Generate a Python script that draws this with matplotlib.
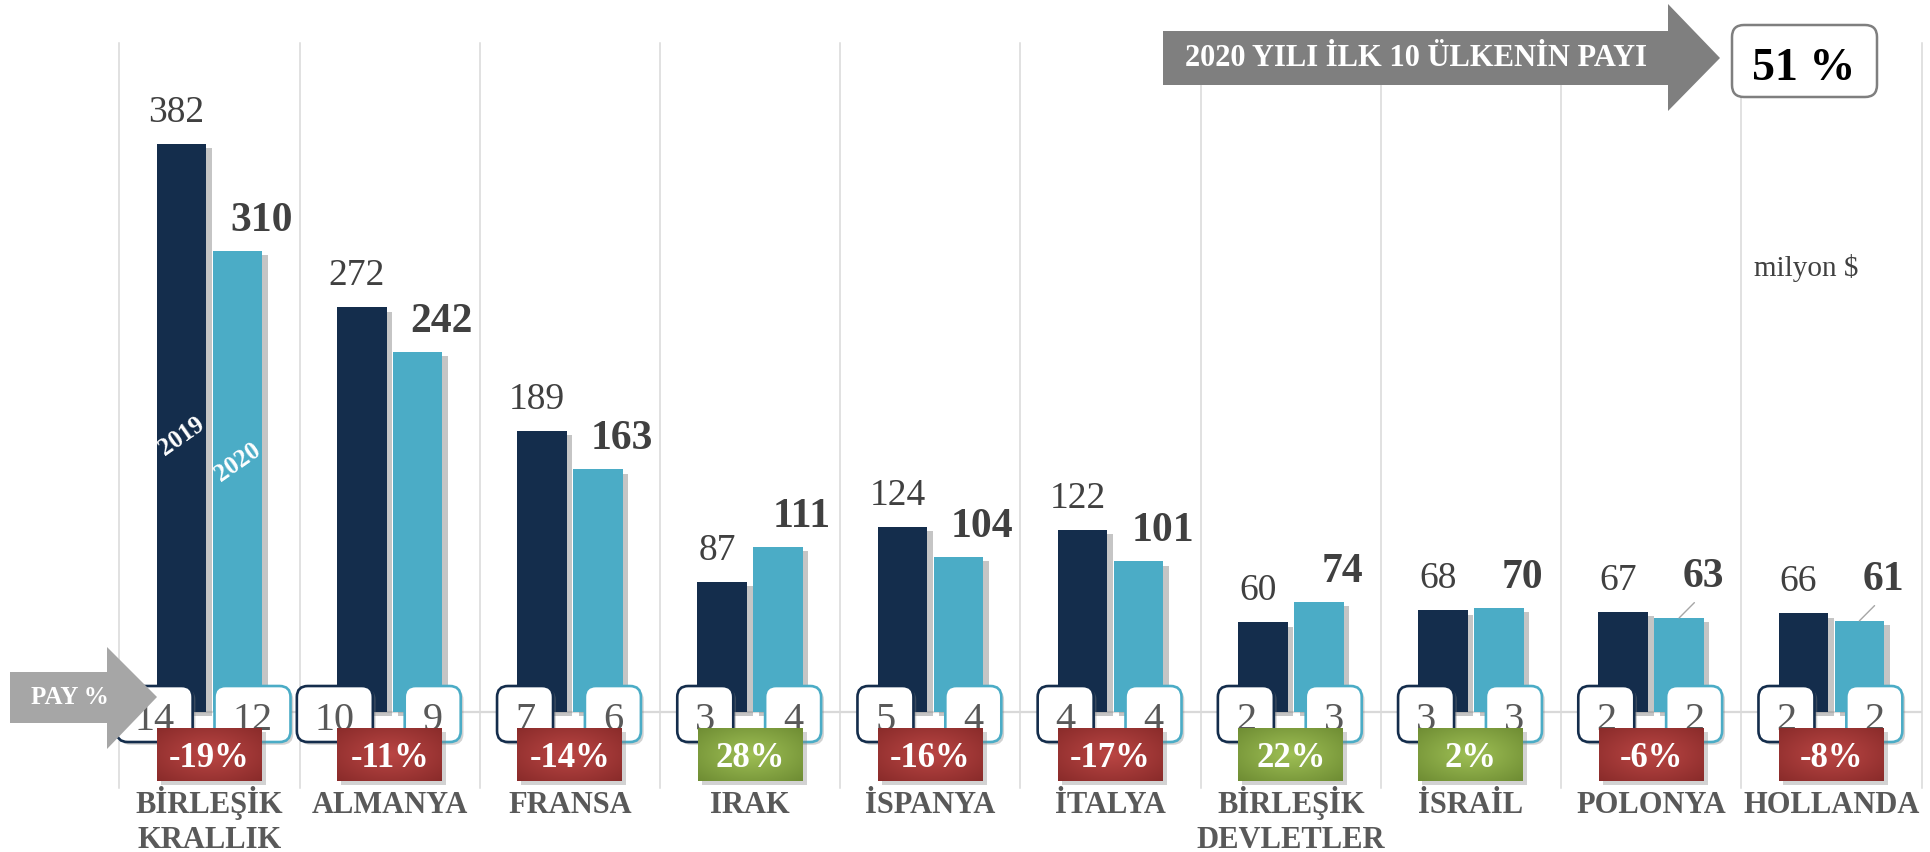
import numpy as np
import matplotlib
matplotlib.use("Agg")
import matplotlib.pyplot as plt
import matplotlib.colors as mcolors
import matplotlib.patheffects as pe
from matplotlib.patches import FancyBboxPatch, Polygon, Rectangle
from matplotlib.transforms import IdentityTransform, Affine2D

plt.rcParams['font.family'] = ['Liberation Serif', 'DejaVu Serif']

# ---- veriler ----
countries = ["BİRLEŞİK\nKRALLIK", "ALMANYA", "FRANSA", "IRAK", "İSPANYA",
             "İTALYA", "BİRLEŞİK\nDEVLETLER", "İSRAİL", "POLONYA", "HOLLANDA"]
val_2019 = [382, 272, 189, 87, 124, 122, 60, 68, 67, 66]
val_2020 = [310, 242, 163, 111, 104, 101, 74, 70, 63, 61]
pay_2019 = [14, 10, 7, 3, 5, 4, 2, 3, 2, 2]
pay_2020 = [12, 9, 6, 4, 4, 4, 3, 3, 2, 2]
degisim = [-19, -11, -14, 28, -16, -17, 22, 2, -6, -8]
toplam_pay = 51
leader = [8, 9]   # 2020 etiketi cizgili olanlar

NAVY = '#142d4c'
AQUA = '#4bacc6'
GRID = '#d9d9d9'
TXT = '#404040'

W, H = 1930, 852
fig = plt.figure(figsize=(W / 100, H / 100), dpi=100)
ax = fig.add_axes([0.0619, 0.0751, 0.9337, 0.8744])
n = len(countries)
x = np.arange(n)
ax.set_xlim(-0.5, n - 0.5)
ax.set_ylim(-51.5, 450)
for s in ax.spines.values():
    s.set_visible(False)
ax.set_xticks([])
ax.set_yticks([])

for b in np.arange(n + 1) - 0.5:
    ax.axvline(b, color=GRID, lw=1.1, zorder=0.5, clip_on=False)
ax.axhline(0, color=GRID, lw=1.6, zorder=0.5)

bw = 0.275
off = 0.155
shadow = [pe.SimplePatchShadow(offset=(4, -3), shadow_rgbFace='#808080', alpha=0.45), pe.Normal()]
b19 = ax.bar(x - off, val_2019, bw, color=NAVY, zorder=2)
b20 = ax.bar(x + off, val_2020, bw, color=AQUA, zorder=2)
for r in list(b19) + list(b20):
    r.set_path_effects(shadow)

# bar ustu degerler
for i in range(n):
    ax.annotate(str(val_2019[i]), (x[i] - off, val_2019[i]), xytext=(-5, 22),
                textcoords='offset pixels', ha='center', va='baseline',
                fontsize=27, color=TXT, zorder=3)
    if i in leader:
        ax.annotate(str(val_2020[i]), (x[i] + off, val_2020[i]), xytext=(24, 31),
                    textcoords='offset pixels', ha='center', va='baseline',
                    fontsize=30, fontweight='bold', color=TXT, zorder=3,
                    arrowprops=dict(arrowstyle='-', color='#a6a6a6', lw=1,
                                    shrinkA=4, shrinkB=0, relpos=(0.45, 0)))
    else:
        ax.annotate(str(val_2020[i]), (x[i] + off, val_2020[i]), xytext=(24, 20),
                    textcoords='offset pixels', ha='center', va='baseline',
                    fontsize=30, fontweight='bold', color=TXT, zorder=3)

ax.text(x[0] - off, 185, '2019', rotation=35, color='white', fontsize=18,
        fontweight='bold', ha='center', va='center', zorder=3)
ax.text(x[0] + off, 168, '2020', rotation=35, color='white', fontsize=18,
        fontweight='bold', ha='center', va='center', zorder=3)

# pay kutulari
ident = IdentityTransform()
box_fx = [pe.SimplePatchShadow(offset=(2, -2), shadow_rgbFace='#808080', alpha=0.35), pe.Normal()]
y0 = ax.transData.transform((0, 0))[1]
for i in range(n):
    for v, xb, ec, kind in [(pay_2019[i], x[i] - off, NAVY, 0), (pay_2020[i], x[i] + off, AQUA, 1)]:
        s = str(v)
        wbox = 36 + 20 * len(s)
        xc = ax.transData.transform((xb, 0))[0]
        cx = xc + 11 - wbox / 2 if kind == 0 else xc + 15
        p = FancyBboxPatch((cx - wbox / 2, y0 - 30.5), wbox, 56,
                           boxstyle='round,pad=0,rounding_size=11',
                           fc='white', ec=ec, lw=1.9, transform=ident,
                           zorder=4, clip_on=False)
        p.set_path_effects(box_fx)
        ax.add_patch(p)
        ax.text(cx, y0 - 18.5, s, transform=ident, ha='center', va='baseline',
                fontsize=29, color='#595959', zorder=5, clip_on=False)

# degisim rozetleri
def grad(c_in, c_out):
    yy, xx = np.mgrid[-1:1:60j, -1:1:120j]
    r = np.clip(np.sqrt(xx ** 2 + yy ** 2) / np.sqrt(2), 0, 1)[..., None]
    return np.array(mcolors.to_rgb(c_in)) * (1 - r) + np.array(mcolors.to_rgb(c_out)) * r

red_img = grad('#bb4644', '#892b2a')
green_img = grad('#9fc055', '#6e8c33')
for i in range(n):
    cxc = ax.transData.transform((x[i], 0))[0]
    l, b = cxc - 52.5, y0 - 69.5
    sh = Rectangle(((l + 4) / W, (b - 4) / H), 105 / W, 53 / H, transform=fig.transFigure,
                   fc='#7f7f7f', alpha=0.35, ec='none', zorder=2)
    fig.add_artist(sh)
    bx = fig.add_axes([l / W, b / H, 105 / W, 53 / H], zorder=3)
    bx.imshow(red_img if degisim[i] < 0 else green_img, extent=[0, 1, 0, 1], aspect='auto')
    bx.set_axis_off()
    bx.text(0.5, 14 / 53, f'{degisim[i]}%', transform=bx.transAxes, ha='center',
            va='baseline', fontsize=25, fontweight='bold', color='white')

# ulke adlari
for i in range(n):
    cxc = ax.transData.transform((x[i], 0))[0]
    for k, line in enumerate(countries[i].split('\n')):
        ax.text(cxc, y0 - 101.5 - 35 * k, line, transform=ident, ha='center',
                va='baseline', fontsize=22, fontweight='bold', color='#595959',
                clip_on=False)

# ust-sol oklar ve kutu (ustten asagi piksel)
top = Affine2D().scale(1, -1).translate(0, H)
pay_arrow = Polygon([(10, 672), (107, 672), (107, 647), (157, 697), (107, 749), (107, 723), (10, 723)],
                    closed=True, fc='#a6a6a6', ec='none', transform=top, zorder=4)
fig.add_artist(pay_arrow)
fig.text(70 / W, 1 - 697 / H, 'PAY %', ha='center', va='center', fontsize=18,
         fontweight='bold', color='white', zorder=5)

top_arrow = Polygon([(1163, 31), (1668, 31), (1668, 4), (1720, 58), (1668, 111), (1668, 85), (1163, 85)],
                    closed=True, fc='#7f7f7f', ec='none', transform=top, zorder=4)
fig.add_artist(top_arrow)
fig.text(1416 / W, 1 - 58 / H, '2020 YILI İLK 10 ÜLKENİN PAYI', ha='center', va='center',
         fontsize=22, fontweight='bold', color='white', zorder=5)

share_box = FancyBboxPatch((1732, H - 97), 145, 72, boxstyle='round,pad=0,rounding_size=12',
                           fc='white', ec='#7f7f7f', lw=1.8, transform=ident, zorder=4)
fig.add_artist(share_box)
fig.text(1804 / W, 1 - 80 / H, f'{toplam_pay} %', ha='center', va='baseline', fontsize=33,
         fontweight='bold', color='black', zorder=5)

fig.text(1806 / W, 1 - 276 / H, 'milyon $', ha='center', va='baseline', fontsize=21,
         color=TXT, zorder=5)

fig.savefig('out.png', dpi=100, facecolor='white')
